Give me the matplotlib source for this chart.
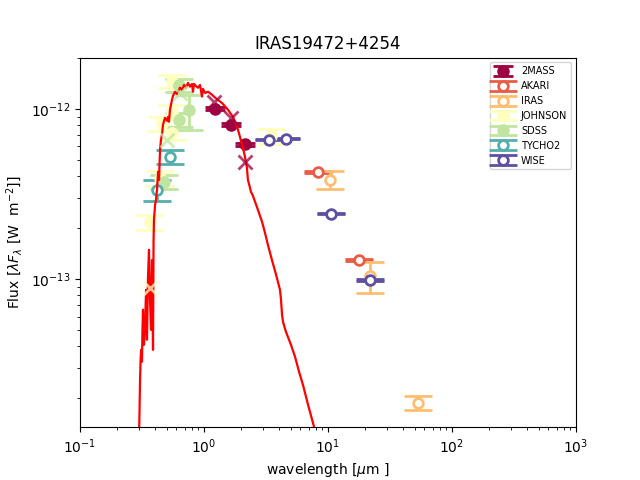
import numpy as np
import matplotlib
matplotlib.use("Agg")
import matplotlib.pyplot as plt

# ---- model SED (wavelength in micron, lambda*F_lambda in W m^-2) ----
sed_wl = [0.299, 0.305, 0.308, 0.311, 0.316, 0.319, 0.322, 0.328, 0.334, 0.341,
          0.347, 0.353, 0.360, 0.367, 0.374, 0.381, 0.388, 0.392, 0.395, 0.403,
          0.410, 0.418, 0.426, 0.434, 0.442, 0.450, 0.458, 0.467, 0.484, 0.503,
          0.513, 0.522, 0.532, 0.552, 0.562, 0.584, 0.605, 0.640, 0.665, 0.690,
          0.716, 0.743, 0.771, 0.800, 0.815, 0.830, 0.862, 0.895, 0.929, 0.963,
          0.981, 1.019, 1.077, 1.16, 1.25, 1.40, 1.56, 1.71, 1.85, 1.95,
          2.06, 2.14, 2.22, 2.26, 2.35, 2.39, 2.48, 2.58, 2.72, 2.94,
          3.10, 3.28, 3.53, 3.81, 4.10, 4.18, 4.26, 4.34, 4.58, 5.03,
          5.42, 5.84, 6.28, 6.90, 7.71, 8.00]
sed_flux = [1.1e-14, 2.55e-14, 3.34e-14, 3.82e-14, 3.25e-14, 5.01e-14, 6.58e-14, 4.09e-14, 5.01e-14, 8.61e-14,
            4.38e-14, 9.87e-14, 1.48e-13, 7.52e-14, 5.01e-14, 1.29e-13, 3.82e-14, 1.69e-13, 2.22e-13, 2.72e-13,
            2.92e-13, 3.34e-13, 4.26e-13, 3.82e-13, 5.74e-13, 6.57e-13, 7.03e-13, 8.05e-13, 8.85e-13, 8.50e-13,
            8.97e-13, 8.39e-13, 9.87e-13, 1.13e-12, 1.19e-12, 1.26e-12, 1.22e-12, 1.33e-12, 1.29e-12, 1.38e-12,
            1.33e-12, 1.42e-12, 1.35e-12, 1.40e-12, 1.26e-12, 1.40e-12, 1.36e-12, 1.33e-12, 1.38e-12, 1.18e-12,
            1.31e-12, 1.24e-12, 1.26e-12, 1.21e-12, 1.15e-12, 1.08e-12, 9.87e-13, 8.97e-13, 7.83e-13, 6.84e-13,
            5.90e-13, 5.22e-13, 4.50e-13, 3.82e-13, 3.43e-13, 3.25e-13, 3.08e-13, 2.84e-13, 2.55e-13, 2.16e-13,
            1.87e-13, 1.58e-13, 1.29e-13, 1.06e-13, 8.61e-14, 7.52e-14, 6.14e-14, 5.58e-14, 4.88e-14, 4.09e-14,
            3.48e-14, 2.84e-14, 2.38e-14, 1.82e-14, 1.35e-14, 1.13e-14]

# ---- photometry ----
tmass_wl = [1.235, 1.662, 2.159]
tmass_f = [1.0e-12, 8.05e-13, 6.2e-13]
tmass_e = [2.0e-14, 1.6e-14, 1.2e-14]

akari_wl = [8.3, 17.8]
akari_f = [4.25e-13, 1.29e-13]
akari_e = [8e-15, 2.5e-15]

iras_wl = [10.4, 21.8, 53.0]
iras_f = [3.82e-13, 1.04e-13, 1.87e-14]
iras_e = [4.6e-14, 2.1e-14, 1.8e-15]

johnson_wl = [0.367, 0.44, 0.46, 0.552, 0.552, 0.552, 3.45]
johnson_f = [2.16e-13, 3.93e-13, 8.16e-13, 1.45e-12, 9.6e-13, 7.23e-13, 6.94e-13]
johnson_e = [2.2e-14, 4.0e-14, 8.0e-14, 1.3e-13, 9e-14, 7e-14, 7e-14]

sdss_wl = [0.477, 0.623, 0.623, 0.763]
sdss_f = [3.72e-13, 1.38e-12, 8.62e-13, 9.87e-13]
sdss_elo = [3.5e-14, 1.2e-13, 8e-14, 2.35e-13]
sdss_ehi = [3.5e-14, 1.2e-13, 8e-14, 2.2e-13]

tycho_wl = [0.42, 0.53]
tycho_f = [3.34e-13, 5.22e-13]
tycho_e = [4.7e-14, 5.0e-14]

wise_wl = [3.35, 4.6, 10.6, 22.0]
wise_f = [6.57e-13, 6.67e-13, 2.41e-13, 9.87e-14]
wise_e = [5e-15, 5e-15, 2e-15, 1e-15]

# model / alternative photometry (crosses)
tmass_x_wl = [1.205, 1.65, 2.14]
tmass_x_f = [1.10e-12, 8.85e-13, 4.88e-13]
sdss_x_wl = [0.64, 0.503]
sdss_x_f = [1.24e-12, 6.57e-13]
johnson_x_wl = [0.367]
johnson_x_f = [8.85e-14]

cols = plt.cm.Spectral(np.linspace(0, 1, 7))

fig, ax = plt.subplots(figsize=(6.4, 4.8), dpi=100)

def eb(x, y, e, c, label, filled, capsize=10):
    ax.errorbar(x, y, yerr=e, fmt='o', color=c, mfc=c if filled else 'white',
                mec=c, ms=7, mew=2, elinewidth=2, capsize=capsize, capthick=3,
                label=label, zorder=3)

eb(tmass_wl, tmass_f, tmass_e, cols[0], '2MASS', True, capsize=7.5)
eb(akari_wl, akari_f, akari_e, cols[1], 'AKARI', False)
eb(iras_wl, iras_f, iras_e, cols[2], 'IRAS', False)
eb(johnson_wl, johnson_f, johnson_e, cols[3], 'JOHNSON', True)
eb(sdss_wl, sdss_f, [sdss_elo, sdss_ehi], cols[4], 'SDSS', True)
eb(tycho_wl, tycho_f, tycho_e, cols[5], 'TYCHO2', False)
eb(wise_wl, wise_f, wise_e, cols[6], 'WISE', False)

ax.plot(sed_wl, sed_flux, color='red', lw=1.6, zorder=4)

ax.plot(tmass_x_wl, tmass_x_f, 'x', color=cols[0], alpha=0.75, ms=10, mew=2, zorder=5)
ax.plot(sdss_x_wl, sdss_x_f, 'x', color=cols[4], alpha=0.75, ms=10, mew=2, zorder=5)
ax.plot(johnson_x_wl, johnson_x_f, 'x', color=cols[3], alpha=0.75, ms=10, mew=2, zorder=5)

ax.set_xscale('log')
ax.set_yscale('log')
ax.set_xlim(0.1, 1000)
ax.set_ylim(1.34e-14, 2.0e-12)
ax.set_title('IRAS19472+4254')
ax.set_xlabel(r'wavelength [$\mu$m ]')
ax.set_ylabel(r'Flux [$\lambda F_\lambda$ [W  m$^{-2}$]]')
ax.legend(loc='upper right', fontsize=7)

fig.savefig('out.png', dpi=100)
